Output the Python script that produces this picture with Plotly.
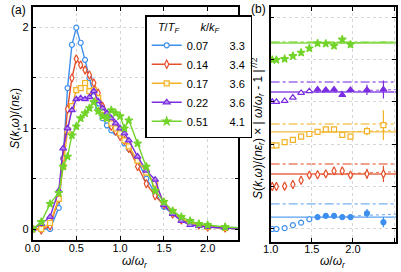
import plotly.graph_objects as go

W, H = 401, 272

# ---------------- Panel (a) data ----------------
omega_a = [0.0, 0.1, 0.2, 0.3, 0.35, 0.4, 0.45, 0.5, 0.55, 0.6, 0.65, 0.7, 0.75, 0.8, 0.85, 0.9,
           0.95, 1.0, 1.05, 1.1, 1.2, 1.3, 1.4, 1.5, 1.6, 1.7, 1.8, 1.9, 2.0, 2.2, 2.4]
S_007 = [0.0, 0.0, 0.0, 0.21, 0.7, 1.40, 1.83, 2.0, 1.85, 1.68, 1.5, 1.32, 1.2, 1.1, 1.03, 0.98,
         0.96, 0.93, 0.85, 0.8, 0.68, 0.5, 0.36, 0.22, 0.15, 0.09, 0.06, 0.04, 0.02, 0.01, 0.0]
S_014 = [0.0, -0.01, 0.03, 0.3, 0.7, 1.19, 1.50, 1.69, 1.63, 1.58, 1.53, 1.45, 1.35, 1.22, 1.12, 1.02,
         0.97, 0.92, 0.88, 0.8, 0.62, 0.45, 0.33, 0.24, 0.15, 0.09, 0.07, 0.04, 0.02, 0.01, 0.0]
S_017 = [0.0, 0.0, 0.06, 0.3, 0.62, 0.98, 1.22, 1.38, 1.40, 1.45, 1.37, 1.38, 1.3, 1.18, 1.1, 1.05,
         1.0, 0.95, 0.88, 0.82, 0.68, 0.56, 0.45, 0.26, 0.17, 0.1, 0.07, 0.04, 0.02, 0.01, 0.0]
S_022 = [0.0, 0.05, 0.12, 0.38, 0.8, 1.0, 1.18, 1.29, 1.30, 1.29, 1.31, 1.37, 1.27, 1.2, 1.15, 1.1,
         1.05, 1.0, 0.95, 0.88, 0.72, 0.58, 0.49, 0.24, 0.15, 0.08, 0.04, 0.03, 0.02, 0.01, 0.0]
S_051 = [0.0, 0.07, 0.25, 0.36, 0.62, 0.72, 0.93, 1.02, 1.1, 1.15, 1.2, 1.26, 1.17, 1.12, 1.1, 1.18,
         1.15, 1.12, 1.0, 1.08, 0.85, 0.62, 0.38, 0.27, 0.18, 0.12, 0.08, 0.05, 0.04, 0.02, 0.01]

T_over_TF = ["0.07", "0.14", "0.17", "0.22", "0.51"]
k_over_kF = ["3.3", "3.4", "3.6", "3.6", "4.1"]

# ---------------- Panel (b) data (tick units, before vertical offset) ----------------
omega_b = [1.02, 1.07, 1.17, 1.27, 1.37, 1.47, 1.57, 1.67, 1.77, 1.87, 1.97, 2.17, 2.37]
tail_007 = [0.0, 0.0, 0.02, 0.09, 0.15, 0.23, 0.28, 0.31, 0.31, 0.28, 0.28, 0.37, 0.16]
tail_014 = [0.0, 0.0, 0.01, 0.05, 0.15, 0.27, 0.28, 0.30, 0.37, 0.37, 0.27, 0.30, 0.30]
tail_017 = [-0.03, -0.03, 0.05, 0.10, 0.18, 0.24, 0.29, 0.35, 0.35, 0.22, 0.18, 0.31, 0.45]
tail_022 = [0.0, 0.0, 0.02, 0.10, 0.21, 0.25, 0.29, 0.28, 0.29, 0.16, 0.28, 0.28, 0.29]
tail_051 = [-0.01, -0.01, 0.01, 0.08, 0.16, 0.26, 0.38, 0.37, 0.32, 0.47, 0.35]
err_007 = [0, 0, 0, 0, 0, 0, 0.035, 0.035, 0.035, 0.035, 0.035, 0.1, 0.12]
err_014 = [0, 0, 0, 0, 0, 0.03, 0.03, 0.03, 0.07, 0.07, 0.04, 0.12, 0.19]
err_017 = [0, 0, 0, 0, 0, 0, 0.03, 0.03, 0.03, 0.03, 0.03, 0.1, 0.35]
err_022 = [0, 0, 0, 0, 0, 0, 0.03, 0.03, 0.03, 0.03, 0.03, 0.12, 0.21]
err_051 = [0, 0, 0, 0, 0, 0, 0.02, 0.02, 0.02, 0.03, 0.02]
level_solid = [0.28, 0.297, 0.29, 0.231, 0.387]
level_dashdot = [0.59, 0.533, 0.476, 0.467, 0.41]
fit_x = [1.55, 2.52]
fit_007 = [0.27, 0.35]
fit_014 = [0.28, 0.35]
fit_017 = [0.27, 0.33]
fit_022 = [0.22, 0.29]
fit_051 = [0.38, 0.41]
offsets = [0, 1, 2, 3, 4]

colors = ["#3d8fee", "#e4502b", "#f1b225", "#7a2de0", "#72d42a"]
light = ["#ffffff", "#ffffff", "#fff6de", "#b58cf0", "#72d42a"]
symbols = ["circle", "diamond-tall", "square", "triangle-up", "star"]
msize = [5, 6, 5, 6, 6]
a_series = [S_007, S_014, S_017, S_022, S_051]
b_series = [tail_007, tail_014, tail_017, tail_022, tail_051]
b_err = [err_007, err_014, err_017, err_022, err_051]
fits = [fit_007, fit_014, fit_017, fit_022, fit_051]
filled_after = [1.52, None, None, 1.52, 0.0]

NB = "\u00a0"
fig = go.Figure()

for i in range(5):
    fig.add_trace(go.Scatter(
        x=omega_a, y=a_series[i], mode="lines+markers",
        name=T_over_TF[i] + NB * 7 + k_over_kF[i],
        line=dict(color=colors[i], width=1.4),
        marker=dict(symbol=symbols[i], size=msize[i], color=light[i],
                    line=dict(color=colors[i], width=1.2)),
        xaxis="x", yaxis="y", cliponaxis=True))

shapes = []
for i in range(5):
    xs = omega_b[:len(b_series[i])]
    ys = [v + offsets[i] for v in b_series[i]]
    if filled_after[i] is None:
        fills = ["#ffffff"] * len(xs)
    else:
        fills = [colors[i] if x > filled_after[i] else "#ffffff" for x in xs]
    shapes.append(dict(type="line", xref="x2 domain", yref="y2", x0=0, x1=1,
                       y0=level_dashdot[i] + offsets[i], y1=level_dashdot[i] + offsets[i],
                       line=dict(color=colors[i], width=1.3, dash="dashdot"), opacity=0.7, layer="below"))
    shapes.append(dict(type="line", xref="x2 domain", yref="y2", x0=0, x1=1,
                       y0=level_solid[i] + offsets[i], y1=level_solid[i] + offsets[i],
                       line=dict(color=colors[i], width=1.4), opacity=0.85, layer="below"))
    fig.add_trace(go.Scatter(
        x=fit_x, y=[v + offsets[i] for v in fits[i]], mode="lines",
        line=dict(color=colors[i], width=1.2, dash="dot"), opacity=0.7,
        xaxis="x2", yaxis="y2", showlegend=False, hoverinfo="skip"))
    fig.add_trace(go.Scatter(
        x=xs, y=ys, mode="markers",
        marker=dict(symbol=symbols[i], size=msize[i], color=fills,
                    line=dict(color=colors[i], width=1.2)),
        error_y=dict(type="data", array=b_err[i], color=colors[i], thickness=1.2, width=0),
        xaxis="x2", yaxis="y2", showlegend=False))

font_family = "Liberation Sans, Arial, sans-serif"
grid = dict(showgrid=True, gridcolor="#d6d6d6", griddash="dot", gridwidth=1)
frame = dict(showline=True, linecolor="black", linewidth=1.5, mirror="ticks",
             ticks="inside", ticklen=4, tickwidth=1.2, tickcolor="black", zeroline=False)

fig.update_layout(
    width=W, height=H,
    margin=dict(l=0, r=0, t=0, b=0),
    paper_bgcolor="white", plot_bgcolor="white",
    font=dict(family=font_family, size=11, color="black"),
    xaxis=dict(domain=[25 / W, 235 / W], range=[0.0, 2.35], anchor="y",
               tickvals=[0, 0.5, 1.0, 1.5, 2.0], ticktext=["0.0", "0.5", "1.0", "1.5", "2.0"],
               ticklabelstandoff=-3, **grid, **frame),
    yaxis=dict(domain=[(H - 240) / H, (H - 7) / H], range=[-0.109, 2.205], anchor="x",
               tickvals=[0, 0.5, 1, 1.5, 2], ticktext=["0", "", "1", "", "2"],
               **grid, **frame),
    xaxis2=dict(domain=[268 / W, 396 / W], range=[1.0, 2.524], anchor="y2",
                tickvals=[1.0, 1.5, 2.0, 2.5], ticktext=["1.0", "1.5", "2.0", "2.5"],
                ticklabelstandoff=-4, **grid, **frame),
    yaxis2=dict(domain=[(H - 242) / H, (H - 7) / H], range=[-0.307, 5.236], anchor="x2",
                tickvals=[0, 1, 2, 3, 4, 5], showticklabels=False,
                **grid, **frame),
    shapes=shapes,
    showlegend=True,
    legend=dict(x=140 / W, y=(H - 15) / H, xanchor="left", yanchor="top",
                bgcolor="white", bordercolor="black", borderwidth=1.5,
                font=dict(size=11), itemwidth=30,
                title=dict(text=NB * 3 + "<i>T</i>/<i>T</i><sub><i>F</i></sub>" + NB * 7
                           + "<i>k</i>/<i>k</i><sub><i>F</i></sub>", font=dict(size=11), side="top")),
    annotations=[
        dict(text="(a)", x=1 / W, y=(H - 10) / H, xref="paper", yref="paper",
             xanchor="left", yanchor="middle", showarrow=False, font=dict(size=12)),
        dict(text="(b)", x=246 / W, y=(H - 9) / H, xref="paper", yref="paper",
             xanchor="left", yanchor="middle", showarrow=False, font=dict(size=12)),
        dict(text="<i>ω</i>/<i>ω</i><sub><i>r</i></sub>", x=130 / W, y=(H - 262) / H,
             xref="paper", yref="paper", xanchor="center", yanchor="middle", showarrow=False,
             font=dict(size=12)),
        dict(text="<i>ω</i>/<i>ω</i><sub><i>r</i></sub>", x=332 / W, y=(H - 262) / H,
             xref="paper", yref="paper", xanchor="center", yanchor="middle", showarrow=False,
             font=dict(size=12)),
        dict(text="<i>S</i>(<i>k</i>,<i>ω</i>)/(<i>nε</i><sub><i>r</i></sub>)", x=8 / W, y=(H - 118) / H,
             xref="paper", yref="paper", xanchor="center", yanchor="middle", showarrow=False,
             textangle=-90, font=dict(size=12)),
        dict(text="<i>S</i>(<i>k</i>,<i>ω</i>)/(<i>nε</i><sub><i>r</i></sub>) × | <i>ω</i>/<i>ω</i><sub><i>r</i></sub> - 1 |<sup>7/2</sup>",
             x=255 / W, y=(H - 128) / H,
             xref="paper", yref="paper", xanchor="center", yanchor="middle", showarrow=False,
             textangle=-90, font=dict(size=12)),
    ],
)

fig.write_html("out.html", config={"displayModeBar": False},
               post_script="document.body.style.margin='0px';document.body.style.padding='0px';")
